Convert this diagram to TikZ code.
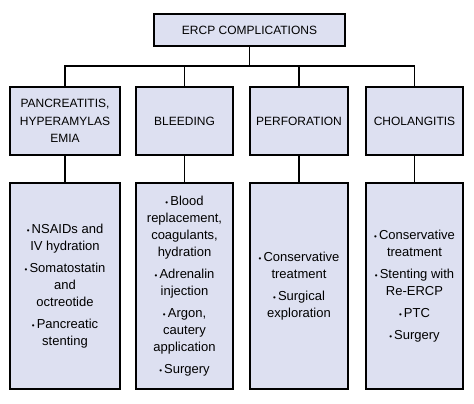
\documentclass[tikz,border=0pt]{standalone}
\usepackage{fontspec}
\setmainfont{Liberation Sans}
\usetikzlibrary{positioning}
\definecolor{boxfill}{RGB}{221,224,241}
\newcommand{\itm}{{\fontsize{8}{8}\selectfont\textbullet}\,}

\begin{document}
\begin{tikzpicture}[x=1pt,y=1pt,
  box/.style={draw=black,fill=boxfill,line width=1.9pt,align=center,inner sep=2pt},
  head/.style={box,font=\fontsize{12}{17.5}\selectfont,minimum height=68pt},
  treat/.style={box,font=\fontsize{13}{17}\selectfont,minimum height=206pt},
  link/.style={line width=1.8pt}]
\useasboundingbox (0,0) rectangle (474,404);

% top of the tree
\node[box,font=\fontsize{12}{14}\selectfont,minimum width=191pt,minimum height=32pt] (top) at (249.5,374) {ERCP COMPLICATIONS};
\coordinate (bus) at (249.5,338);

% complications
\node[head,minimum width=110pt] (pan) at (65,283) {PANCREATITIS,\\HYPERAMYLAS\\EMIA};
\node[head,minimum width=97pt] (ble) at (184.5,283) {BLEEDING};
\node[head,minimum width=98pt] (per) at (299,283) {PERFORATION};
\node[head,minimum width=97pt] (cho) at (414.5,283) {CHOLANGITIS};

% treatments
\node[treat,minimum width=110pt] (panT) at (65,118) {\itm NSAIDs and\\IV hydration\\[5pt]\itm Somatostatin\\and\\octreotide\\[5pt]\itm Pancreatic\\stenting};
\node[treat,minimum width=97pt] (bleT) at (184.5,118) {\itm Blood\\replacement,\\coagulants,\\hydration\\[5pt]\itm Adrenalin\\injection\\[5pt]\itm Argon,\\cautery\\application\\[5pt]\itm Surgery};
\node[treat,minimum width=98pt] (perT) at (299,118) {\itm Conservative\\treatment\\[5pt]\itm Surgical\\exploration};
\node[treat,minimum width=97pt] (choT) at (414.5,118) {\itm Conservative\\treatment\\[5pt]\itm Stenting with\\Re-ERCP\\[5pt]\itm PTC\\[5pt]\itm Surgery};

% connectors
\draw[link] (top.south) -- (bus);
\draw[link] (pan.north) |- (bus) -| (cho.north);
\draw[link] (ble.north) -- (ble.north |- bus);
\draw[link] (per.north) -- (per.north |- bus);
\draw[link] (pan.south) -- (panT.north);
\draw[link] (ble.south) -- (bleT.north);
\draw[link] (per.south) -- (perT.north);
\draw[link] (cho.south) -- (choT.north);

\end{tikzpicture}
\end{document}
